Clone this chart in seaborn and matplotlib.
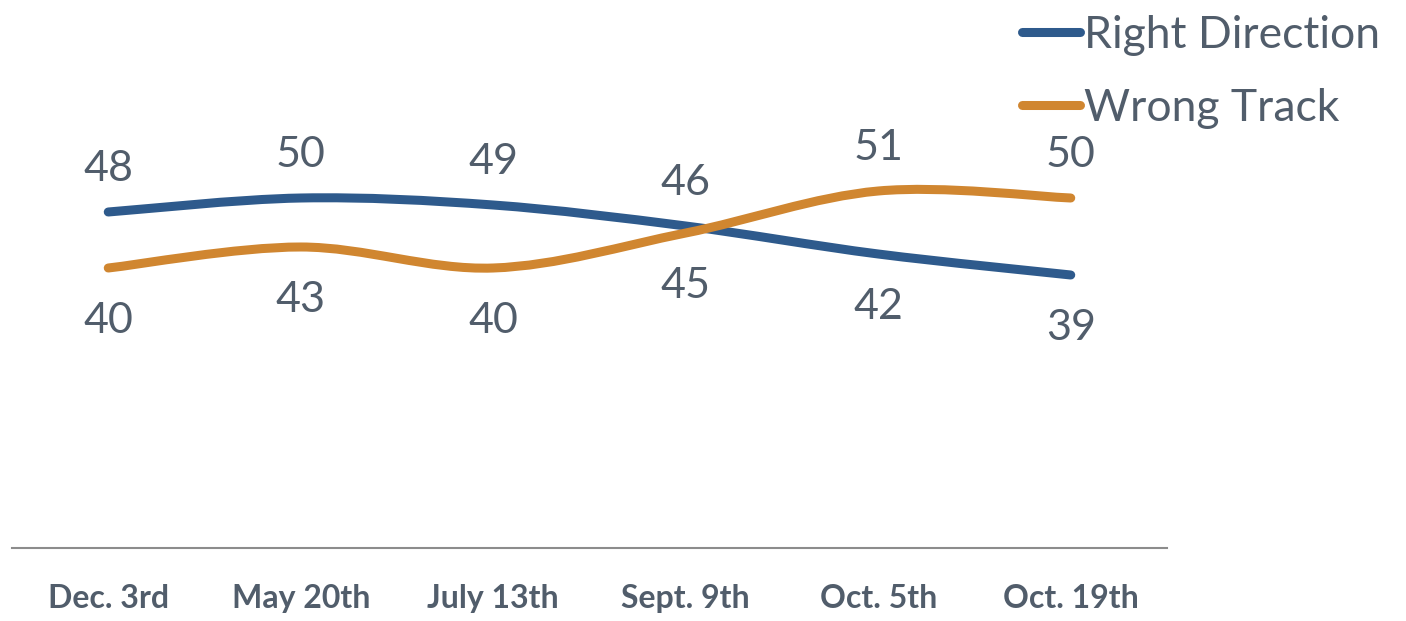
import matplotlib
matplotlib.use("Agg")
import matplotlib.pyplot as plt
from matplotlib.path import Path
from matplotlib.patches import PathPatch
from matplotlib.lines import Line2D
import seaborn as sns
import pandas as pd
import numpy as np

categories = ["Dec. 3rd", "May 20th", "July 13th", "Sept. 9th", "Oct. 5th", "Oct. 19th"]
right_direction = [48, 50, 49, 46, 42, 39]
wrong_track = [40, 43, 40, 45, 51, 50]

BLUE = "#2e5a8c"
ORANGE = "#d08630"
TEXT = "#515d6b"

sns.set_theme(style="white")
plt.rcParams["font.family"] = ["Lato", "DejaVu Sans"]

fig = plt.figure(figsize=(14.06, 6.21), dpi=100)
ax = fig.add_axes([12/1406, 73/621, (1167-12)/1406, (548-58)/621])

x = np.arange(len(categories))
df = pd.DataFrame({
    "x": np.concatenate([x, x]),
    "value": right_direction + wrong_track,
    "series": ["Right Direction"] * len(x) + ["Wrong Track"] * len(x),
})
sns.lineplot(data=df, x="x", y="value", hue="series", palette=[BLUE, ORANGE],
             linewidth=0, legend=False, ax=ax)

def smooth_path(xs, ys):
    pts = np.column_stack([xs, ys]).astype(float)
    n = len(pts)
    verts = [pts[0]]
    codes = [Path.MOVETO]
    for i in range(n - 1):
        p0 = pts[i - 1] if i > 0 else pts[i]
        p1 = pts[i]
        p2 = pts[i + 1]
        p3 = pts[i + 2] if i + 2 < n else pts[i + 1]
        c1 = p1 + (p2 - p0) / 6.0
        c2 = p2 - (p3 - p1) / 6.0
        verts += [c1, c2, p2]
        codes += [Path.CURVE4] * 3
    return Path(verts, codes)

for vals, col in [(right_direction, BLUE), (wrong_track, ORANGE)]:
    patch = PathPatch(smooth_path(x, vals), facecolor="none", edgecolor=col,
                      linewidth=6.5, capstyle="round", joinstyle="round", zorder=3)
    ax.add_patch(patch)

for xi, r, w in zip(x, right_direction, wrong_track):
    for v, other in [(r, w), (w, r)]:
        off = 31 if v >= other else -38
        ax.annotate(f"{v}", (xi, v), xytext=(0, off), textcoords="offset points",
                    ha="center", va="center", fontsize=31, color=TEXT)

ax.set_xlim(-0.5, len(categories) - 0.5)
ax.set_ylim(0, 70)
ax.set_xticks(x)
ax.set_xticklabels(categories, fontsize=23, fontweight="bold", color=TEXT)
ax.tick_params(axis="x", length=0, pad=26)
ax.set_yticks([])
ax.set_xlabel("")
ax.set_ylabel("")
for s in ["top", "right", "left"]:
    ax.spines[s].set_visible(False)
ax.spines["bottom"].set_color("#8c8c8c")
ax.spines["bottom"].set_linewidth(1.5)

handles = [Line2D([0], [0], color=BLUE, lw=6.5, solid_capstyle="round"),
           Line2D([0], [0], color=ORANGE, lw=6.5, solid_capstyle="round")]
leg = fig.legend(handles, ["Right Direction", "Wrong Track"], loc="upper left",
                 bbox_to_anchor=(1004/1406, 1.005), frameon=False, fontsize=32,
                 handlelength=1.3, handletextpad=0.1, labelspacing=0.72,
                 borderaxespad=0.0)
for t in leg.get_texts():
    t.set_color(TEXT)

fig.savefig("out.png", dpi=100)
